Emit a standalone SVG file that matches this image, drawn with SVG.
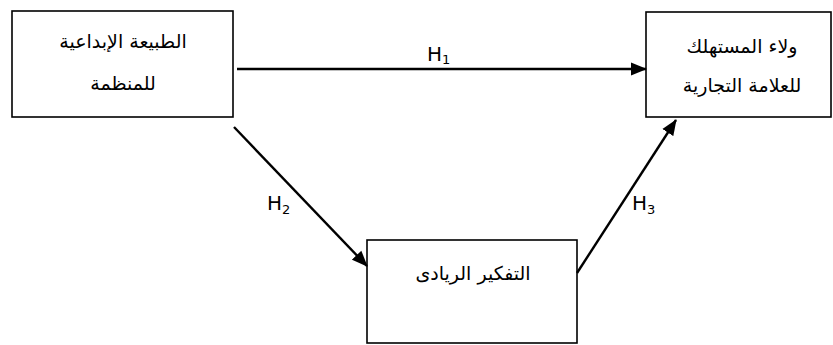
<svg xmlns="http://www.w3.org/2000/svg" width="833" height="345" viewBox="0 0 833 345">
<defs>
<style>
.box{fill:#fff;stroke:#000;stroke-width:1.6}
.ar{font-family:"DejaVu Sans","Noto Sans",sans-serif;font-size:19px;fill:#000;text-anchor:middle}
.lbl{font-family:"DejaVu Sans","Liberation Sans",sans-serif;font-size:20px;fill:#000}
.sub{font-size:13px}
.con{stroke:#000;stroke-width:2.4;fill:none;marker-end:url(#ah)}
</style>
<marker id="ah" markerWidth="16" markerHeight="14" refX="15" refY="6.5" orient="auto" markerUnits="userSpaceOnUse" viewBox="0 0 16 13">
<path d="M0,0 L16,6.5 L0,13 Z" fill="#000"/>
</marker>
</defs>
<rect width="833" height="345" fill="#fff"/>
<g id="n1">
<rect class="box" x="12" y="11" width="221" height="106"/>
<text class="ar" x="123" y="48" direction="rtl">الطبيعة الإبداعية</text>
<text class="ar" x="123" y="90" direction="rtl">للمنظمة</text>
</g>
<g id="n2">
<rect class="box" x="646" y="12" width="185" height="105"/>
<text class="ar" x="742" y="53" direction="rtl">ولاء المستهلك</text>
<text class="ar" x="742" y="92" direction="rtl">للعلامة التجارية</text>
</g>
<g id="n3">
<rect class="box" x="367" y="240" width="210" height="103"/>
<text class="ar" x="473" y="280" direction="rtl">التفكير الريادى</text>
</g>
<g id="connectors">
<line class="con" x1="237" y1="69" x2="646" y2="69"/>
<line class="con" x1="234" y1="127" x2="367" y2="266"/>
<line class="con" x1="577" y1="273" x2="676" y2="120"/>
<text class="lbl" x="427" y="61">H<tspan class="sub" dy="3">1</tspan></text>
<text class="lbl" x="267" y="210">H<tspan class="sub" dy="4">2</tspan></text>
<text class="lbl" x="632" y="210">H<tspan class="sub" dy="4">3</tspan></text>
</g>
</svg>
